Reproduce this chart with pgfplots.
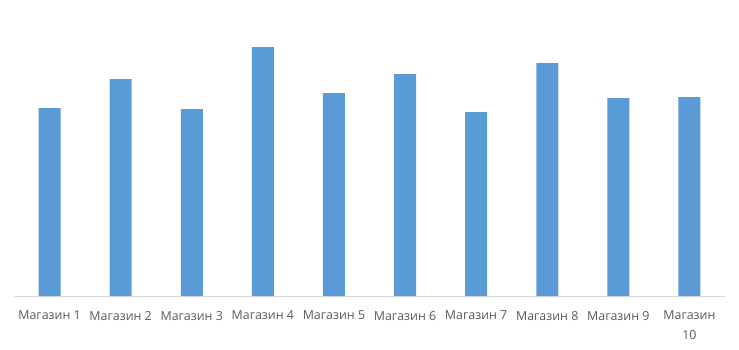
\documentclass[border=0pt]{standalone}
\usepackage{fontspec}
\setmainfont{Open Sans}
\usepackage{pgfplots}
\pgfplotsset{compat=1.18}
\definecolor{barblue}{HTML}{5B9BD5}
\definecolor{axisgray}{HTML}{D9D9D9}
\definecolor{labelgray}{HTML}{595959}
\begin{document}
\begin{tikzpicture}
\path[use as bounding box] (-14pt,-53pt) rectangle (725pt,296pt);
\begin{axis}[
  at={(0pt,0pt)}, anchor=south west,
  scale only axis, width=711pt, height=286pt,
  xmin=-0.5, xmax=9.5, ymin=0, ymax=286,
  hide y axis,
  axis x line*=bottom,
  x axis line style={axisgray, line width=1pt, -},
  xtick=data,
  major tick length=0pt,
  xticklabels={Магазин 1,Магазин 2,Магазин 3,Магазин 4,Магазин 5,Магазин 6,Магазин 7,Магазин 8,Магазин 9,{Магазин\\10}},
  xticklabel style={font=\fontsize{12.4}{19.5}\selectfont, text=labelgray, align=center, anchor=north, yshift=-11.5pt},
  ybar, bar width=22pt,
  clip=false,
]
\addplot[fill=barblue, draw=none] coordinates {
(0,188) (1,217) (2,187) (3,249) (4,203) (5,222) (6,184) (7,233) (8,198) (9,199)};
\end{axis}
\end{tikzpicture}
\end{document}
